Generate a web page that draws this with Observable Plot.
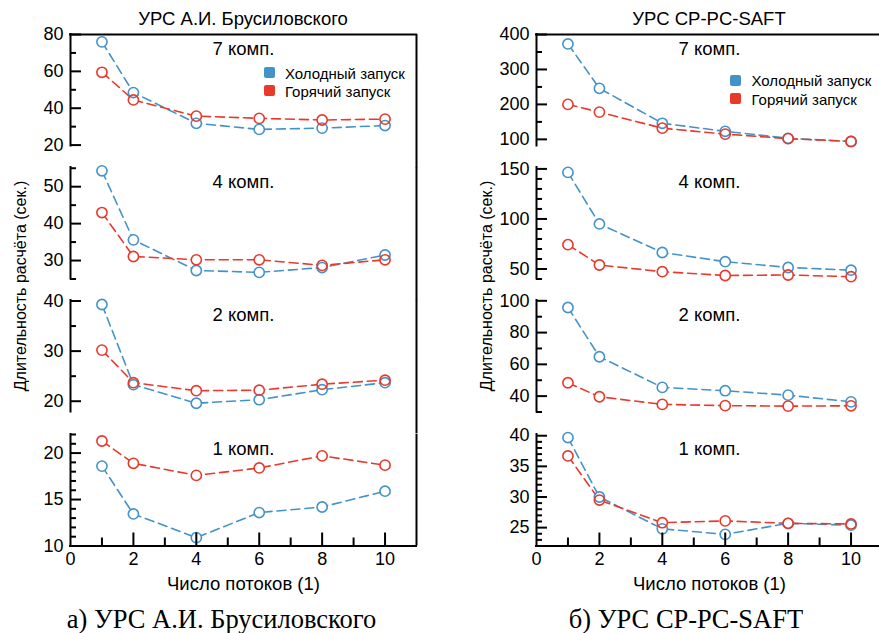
<!DOCTYPE html>
<html><head><meta charset="utf-8">
<script src="https://cdn.jsdelivr.net/npm/d3@7"></script>
<script src="https://cdn.jsdelivr.net/npm/@observablehq/plot@0.6"></script>
<style>
html,body{margin:0;padding:0;background:#fff;overflow:hidden;}
#root{position:relative;width:879px;height:633px;overflow:hidden;font-family:"Liberation Sans",Arial,sans-serif;color:#000;}
.t{position:absolute;white-space:nowrap;line-height:1;transform:translate(-50%,-50%);}
.sq{position:absolute;width:11px;height:11px;border-radius:2px;}
.lt{position:absolute;white-space:nowrap;line-height:1;font-size:15px;transform:translateY(-50%);}
</style></head><body><div id="root"></div>
<script>
// ---- data ----
const threads = [1, 2, 4, 6, 8, 10];
const xTickLabels = [0, 2, 4, 6, 8, 10];
const xMinorTicks = [1, 3, 5, 7, 9];
const seriesNames = ["Холодный запуск", "Горячий запуск"];
const colors = ["#4393c9", "#e8392b"];
const panelLabels = ["7 комп.", "4 комп.", "2 комп.", "1 комп."];
const titles = ["УРС А.И. Брусиловского", "УРС CP-PC-SAFT"];
const captions = ["а) УРС А.И. Брусиловского", "б) УРС CP-PC-SAFT"];
const yLabel = "Длительность расчёта (сек.)";
const xLabel = "Число потоков (1)";

// Brusilovsky EOS
const brus7Cold = [76, 48.5, 31.8, 28.5, 29.2, 30.6];
const brus7Hot  = [59.5, 44.5, 35.7, 34.5, 33.6, 34.1];
const brus4Cold = [54.3, 35.6, 27.3, 26.8, 28.1, 31.5];
const brus4Hot  = [43, 31.1, 30.2, 30.2, 28.7, 30.2];
const brus2Cold = [39.3, 23.3, 19.6, 20.3, 22.3, 23.7];
const brus2Hot  = [30.2, 23.7, 22.1, 22.2, 23.4, 24.2];
const brus1Cold = [18.6, 13.45, 10.9, 13.6, 14.2, 15.9];
const brus1Hot  = [21.3, 18.9, 17.6, 18.4, 19.7, 18.7];
// CP-PC-SAFT EOS
const saft7Cold = [373, 246, 146, 123, 103, 94];
const saft7Hot  = [200, 178, 132, 115, 102, 94];
const saft4Cold = [146.5, 95, 66.5, 57.3, 51.5, 48.8];
const saft4Hot  = [74.3, 54, 47.3, 43.5, 44, 42.3];
const saft2Cold = [95.8, 64.8, 45.5, 43.4, 40.6, 36.4];
const saft2Hot  = [48.4, 39.6, 34.8, 34, 33.7, 33.9];
const saft1Cold = [39.7, 30, 24.8, 23.9, 25.7, 25.4];
const saft1Hot  = [36.7, 29.5, 25.8, 26.1, 25.7, 25.6];

// y tick labels / domains / minor tick steps
const brusDomains = [[19.5, 80], [25, 55.2], [17.85, 40.1], [10, 22]];
const brusTicks = [[20, 40, 60, 80], [30, 40, 50], [20, 30, 40], [10, 15, 20]];
const brusMinorStep = [10, 5, 5, 1];
const saftDomains = [[81, 400], [40, 151.4], [30, 100.2], [22, 40.2]];
const saftTicks = [[100, 200, 300, 400], [50, 100, 150], [40, 60, 80, 100], [25, 30, 35, 40]];
const saftMinorStep = [50, 10, 10, 1];

const columns = [
  {left: 0, cold: [brus7Cold, brus4Cold, brus2Cold, brus1Cold], hot: [brus7Hot, brus4Hot, brus2Hot, brus1Hot],
   domains: brusDomains, ticks: brusTicks, minor: brusMinorStep},
  {left: 466, cold: [saft7Cold, saft4Cold, saft2Cold, saft1Cold], hot: [saft7Hot, saft4Hot, saft2Hot, saft1Hot],
   domains: saftDomains, ticks: saftTicks, minor: saftMinorStep}
];

const root = document.getElementById("root");
const H = 111.5, STEP = 133.4, TOP0 = 33.5, W = 440, ML = 70, MR = 24, PW = W - ML - MR;
const FONT = "'Liberation Sans', Arial, sans-serif";
const R = 5.1;

function addText(txt, cx, cy, size, extra = "") {
  const d = document.createElement("div");
  d.className = "t";
  d.textContent = txt;
  d.style.left = cx + "px"; d.style.top = cy + "px"; d.style.fontSize = size + "px";
  if (extra) d.style.cssText += extra;
  root.appendChild(d);
  return d;
}

columns.forEach((col, c) => {
  for (let i = 0; i < 4; i++) {
    const dom = col.domains[i];
    const cold = threads.map((t, k) => ({x: t, y: col.cold[i][k]}));
    const hot = threads.map((t, k) => ({x: t, y: col.hot[i][k]}));
    const step = col.minor[i];
    const minor = d3.range(Math.ceil(dom[0] / step) * step, dom[1] + 1e-9, step)
      .filter(v => !col.ticks[i].some(t => Math.abs(t - v) < 1e-9));
    const mt = 14, mb = i === 3 ? 50 : 14;
    const marks = [
      Plot.ruleX([0], {stroke: "black", strokeWidth: 2, strokeLinecap: "square"}),
      Plot.ruleX([11], {stroke: "black", strokeWidth: 2, insetBottom: i < 3 ? -(STEP - H) : 0}),
      Plot.tickY(col.ticks[i], {y: d => d, insetRight: PW - 11, stroke: "black", strokeWidth: 2}),
      Plot.tickY(minor, {y: d => d, insetRight: PW - 6, stroke: "black", strokeWidth: 2}),
      Plot.axisY({ticks: col.ticks[i], tickSize: 0, tickPadding: 7, fontSize: 18, label: null}),
      Plot.text([panelLabels[i]], {text: d => d, frameAnchor: "top", dy: 15, lineAnchor: "middle", fontSize: 18.5}),
      Plot.line(cold, {x: "x", y: "y", stroke: colors[0], strokeWidth: 1.6, strokeDasharray: "9,5"}),
      Plot.line(hot, {x: "x", y: "y", stroke: colors[1], strokeWidth: 1.6, strokeDasharray: "9,5"}),
      Plot.dot(cold.concat(hot), {x: "x", y: "y", r: R, fill: "white"}),
      Plot.dot(cold, {x: "x", y: "y", r: R, stroke: colors[0], strokeWidth: 1.6}),
      Plot.dot(hot, {x: "x", y: "y", r: R, stroke: colors[1], strokeWidth: 1.6})
    ];
    if (i === 0) marks.push(Plot.ruleY([dom[1]], {stroke: "black", strokeWidth: 2, strokeLinecap: "square"}));
    if (i === 3) {
      marks.push(
        Plot.ruleY([dom[0]], {stroke: "black", strokeWidth: 2, strokeLinecap: "square"}),
        Plot.tickX(xTickLabels.slice(1), {x: d => d, insetTop: H - 13, stroke: "black", strokeWidth: 2}),
        Plot.tickX(xMinorTicks, {x: d => d, insetTop: H - 8, stroke: "black", strokeWidth: 2}),
        Plot.axisX({ticks: xTickLabels, tickSize: 0, tickPadding: 6, fontSize: 18, label: null}),
        Plot.text([xLabel], {text: d => d, frameAnchor: "bottom", dy: 38, lineAnchor: "middle", fontSize: 18.5})
      );
    }
    const svg = Plot.plot({
      width: W, height: H + mt + mb,
      marginTop: mt, marginBottom: mb, marginLeft: ML, marginRight: MR,
      x: {domain: [0, 11], axis: null},
      y: {domain: dom, axis: null},
      style: {background: "transparent", overflow: "visible", fontFamily: FONT, fontSize: "16px", color: "black"},
      marks
    });
    svg.style.position = "absolute";
    svg.style.left = col.left + "px";
    svg.style.top = (TOP0 + i * STEP - mt) + "px";
    root.appendChild(svg);
  }
  const cx = col.left + ML + PW / 2;
  addText(titles[c], cx, 19, 18.5);
  addText(yLabel, col.left + 21, 286, 16, "transform:translate(-50%,-50%) rotate(-90deg);");
  const cap = addText(captions[c], c === 0 ? 221.5 : 686, 619, 26.5);
  cap.style.fontFamily = "'Liberation Serif', 'Times New Roman', serif";
  // legend
  const lx = c === 0 ? 263.5 : 730, ly = c === 0 ? [72.5, 90.5] : [80, 98.5];
  seriesNames.forEach((name, s) => {
    const sq = document.createElement("div");
    sq.className = "sq"; sq.style.background = colors[s];
    sq.style.left = lx + "px"; sq.style.top = (ly[s] - 5.5) + "px";
    root.appendChild(sq);
    const t = document.createElement("div");
    t.className = "lt"; t.textContent = name;
    t.style.left = (lx + 21.5) + "px"; t.style.top = ly[s] + "px";
    root.appendChild(t);
  });
});
</script></body></html>
